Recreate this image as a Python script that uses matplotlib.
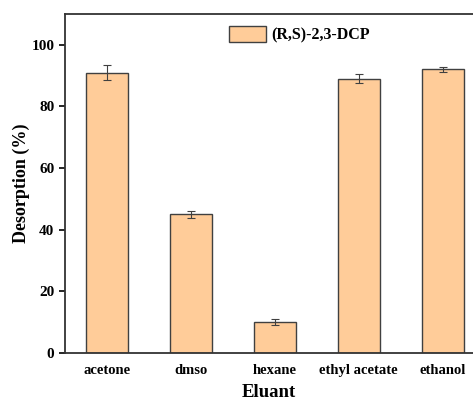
import numpy as np
import matplotlib
matplotlib.use("Agg")
import matplotlib.pyplot as plt

eluants = ['acetone', 'dmso', 'hexane', 'ethyl acetate', 'ethanol']
desorption = [91.0, 45.0, 10.0, 89.0, 92.0]
errors = [2.4, 1.2, 0.9, 1.4, 0.8]

plt.rcParams['font.family'] = ['Liberation Serif', 'DejaVu Serif']
plt.rcParams['font.weight'] = 'bold'

fig = plt.figure(figsize=(4.73, 4.01), dpi=100)
ax = fig.add_axes([0.137, 0.12, 0.863, 0.845])

x = np.arange(len(eluants))
ax.bar(x, desorption, width=0.5, color='#FFCC99', edgecolor='#404040',
       linewidth=1.0, yerr=errors, capsize=3,
       error_kw=dict(ecolor='#404040', elinewidth=0.8, capthick=0.8),
       label='(R,S)-2,3-DCP')

ax.set_xlim(-0.5, 4.36)
ax.set_ylim(0, 110)
ax.set_yticks([0, 20, 40, 60, 80, 100])
ax.set_xticks(x)
ax.set_xticklabels(eluants, fontsize=10.5, fontweight='bold')
ax.tick_params(axis='x', length=0, pad=8)
ax.tick_params(axis='y', labelsize=11, direction='out', length=4, width=1.2)
for lab in ax.get_yticklabels():
    lab.set_fontweight('bold')

ax.spines['right'].set_visible(False)
for s in ['left', 'bottom', 'top']:
    ax.spines[s].set_linewidth(1.3)
    ax.spines[s].set_color('#333333')

ax.set_ylabel('Desorption (%)', fontsize=13, fontweight='bold', labelpad=1)
ax.set_xlabel('Eluant', fontsize=13.5, fontweight='bold', labelpad=5)

ax.legend(loc='upper left', bbox_to_anchor=(0.395, 0.975), frameon=False,
          prop=dict(size=11.5, weight='bold'), handlelength=2.3, handleheight=1.2,
          handletextpad=0.35, borderaxespad=0, borderpad=0.2)

fig.savefig('out.png', dpi=100)
